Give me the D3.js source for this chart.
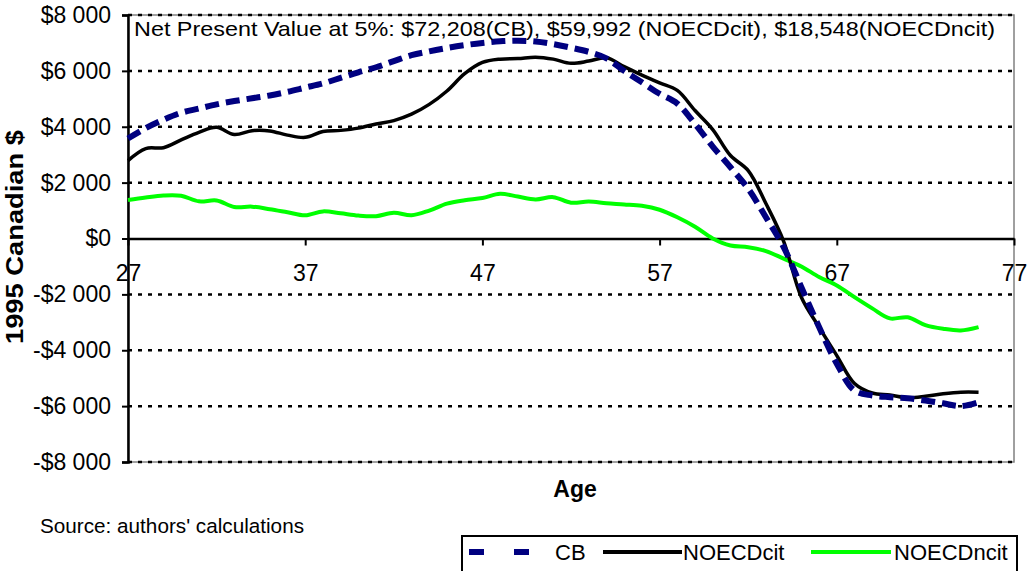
<!DOCTYPE html>
<html>
<head>
<meta charset="utf-8">
<script src="https://cdn.jsdelivr.net/npm/d3@7"></script>
<style>
  body { margin: 0; background: #fff; }
  svg { font-family: Arial, "Liberation Sans", sans-serif; }
</style>
</head>
<body>
<svg id="chart" width="1029" height="571"></svg>
<script>
// ages 27..75
ages = d3.range(27, 76);
cb = [3580, 3950, 4250, 4500, 4650, 4800, 4920, 5020, 5120, 5250,
      5400, 5550, 5750, 5950, 6130, 6350, 6560, 6700, 6820, 6920,
      7000, 7060, 7080, 7050, 6960, 6830, 6680, 6450, 6000, 5590,
      5180, 4830, 4100, 3290, 2550, 1780, 760, -310, -1740, -3170,
      -4480, -5440, -5620, -5680, -5720, -5800, -5900, -6000, -5860];
noecdCit = [2790, 3220, 3250, 3530, 3800, 3980, 3720, 3860, 3850, 3700,
            3620, 3830, 3870, 3950, 4100, 4220, 4450, 4800, 5280, 5900,
            6300, 6420, 6440, 6490, 6420, 6270, 6350, 6470, 6150, 5850,
            5570, 5300, 4580, 3900, 2970, 2430, 1250, -100, -2100, -3170,
            -4190, -5190, -5530, -5600, -5700, -5650, -5560, -5500, -5500];
noecdNcit = [1380, 1470, 1540, 1530, 1330, 1360, 1130, 1140, 1050, 940,
             830, 970, 900, 820, 800, 920, 830, 1000, 1250, 1370,
             1450, 1600, 1500, 1400, 1480, 1280, 1320, 1260, 1220, 1170,
             1030, 760, 420, 0, -250, -310, -450, -720, -1000, -1380,
             -1680, -2100, -2500, -2860, -2820, -3100, -3230, -3290, -3170];
yTicks = [8000, 6000, 4000, 2000, 0, -2000, -4000, -6000, -8000];
xTicks = [27, 37, 47, 57, 67, 77];
titleText = "Net Present Value at 5%: $72,208(CB), $59,992 (NOECDcit), $18,548(NOECDncit)";

let svg = d3.select("#chart");
let plot = {left: 128, right: 1014, top: 15, bottom: 462};

let x = d3.scaleLinear().domain([27, 77]).range([plot.left, plot.right]);
let y = d3.scaleLinear().domain([-8000, 8000]).range([plot.bottom, plot.top]);

function fmt(v){
    let s = "$" + d3.format(",")(Math.abs(v)).replace(/,/g, " ");
    return v < 0 ? "-" + s : s;
}

// plot area border
svg.append("rect")
    .attr("x", plot.left).attr("y", plot.top)
    .attr("width", plot.right - plot.left).attr("height", plot.bottom - plot.top)
    .attr("fill", "none").attr("stroke", "#808080").attr("stroke-width", 1.5);

// gridlines
svg.selectAll(".grid")
    .data(yTicks.filter(d => d !== 0))
    .enter().append("line")
    .attr("class", "grid")
    .attr("x1", plot.left).attr("x2", plot.right)
    .attr("y1", d => y(d)).attr("y2", d => y(d))
    .attr("stroke", "#000").attr("stroke-width", 2.5)
    .attr("stroke-dasharray", "4,6");

// y axis
let yAxis = d3.axisLeft(y).tickValues(yTicks).tickSize(6).tickPadding(11).tickFormat(fmt);
let gy = svg.append("g").attr("transform", "translate(" + plot.left + ",0)").call(yAxis);
gy.select(".domain").attr("stroke", "#000").attr("stroke-width", 2.5);
gy.selectAll(".tick line").attr("stroke", "#000").attr("stroke-width", 2);
gy.selectAll(".tick text").attr("font-size", 23).attr("fill", "#000")
    .attr("font-family", "Arial, 'Liberation Sans', sans-serif");

// x axis at zero
let xAxis = d3.axisBottom(x).tickValues(xTicks).tickSize(7).tickPadding(19).tickSizeOuter(0);
let gx = svg.append("g").attr("transform", "translate(0," + y(0) + ")").call(xAxis);
gx.select(".domain").attr("stroke", "#000").attr("stroke-width", 2.5);
gx.selectAll(".tick line").attr("stroke", "#000").attr("stroke-width", 2);
gx.selectAll(".tick text").attr("font-size", 23).attr("fill", "#000")
    .attr("font-family", "Arial, 'Liberation Sans', sans-serif");

// series
let line = d3.line()
    .x((d, i) => x(ages[i]))
    .y(d => y(d))
    .curve(d3.curveCatmullRom.alpha(0.5));

svg.append("path").datum(noecdNcit)
    .attr("d", line).attr("fill", "none")
    .attr("stroke", "#00ff00").attr("stroke-width", 4);
svg.append("path").datum(noecdCit)
    .attr("d", line).attr("fill", "none")
    .attr("stroke", "#000").attr("stroke-width", 3.5);
svg.append("path").datum(cb)
    .attr("d", line).attr("fill", "none")
    .attr("stroke", "#000080").attr("stroke-width", 6)
    .attr("stroke-dasharray", "14,7");

// title inside plot
svg.append("text")
    .attr("x", 134).attr("y", 36)
    .attr("font-size", 21)
    .attr("textLength", 861).attr("lengthAdjust", "spacingAndGlyphs")
    .text(titleText);

// axis titles
svg.append("text")
    .attr("transform", "translate(23,237) rotate(-90)")
    .attr("text-anchor", "middle")
    .attr("font-size", 23).attr("font-weight", "bold")
    .attr("textLength", 214).attr("lengthAdjust", "spacingAndGlyphs")
    .text("1995 Canadian $");

svg.append("text")
    .attr("x", 575).attr("y", 497)
    .attr("text-anchor", "middle")
    .attr("font-size", 23).attr("font-weight", "bold")
    .text("Age");

svg.append("text")
    .attr("x", 40).attr("y", 533)
    .attr("font-size", 20.5)
    .attr("textLength", 264).attr("lengthAdjust", "spacingAndGlyphs")
    .text("Source: authors' calculations");

// legend
let lg = svg.append("g");
lg.append("rect")
    .attr("x", 462).attr("y", 536).attr("width", 555).attr("height", 45)
    .attr("fill", "#fff").attr("stroke", "#000").attr("stroke-width", 2);
let legendItems = [
    {name: "CB", color: "#000080", w: 6, dash: "15,30", x1: 469, x2: 530, tx: 555},
    {name: "NOECDcit", color: "#000", w: 4, dash: null, x1: 603, x2: 682, tx: 683},
    {name: "NOECDncit", color: "#00ff00", w: 4, dash: null, x1: 811, x2: 891, tx: 894}
];
legendItems.forEach(function(d){
    lg.append("line")
        .attr("x1", d.x1).attr("x2", d.x2).attr("y1", 552).attr("y2", 552)
        .attr("stroke", d.color).attr("stroke-width", d.w)
        .attr("stroke-dasharray", d.dash);
    lg.append("text")
        .attr("x", d.tx).attr("y", 560)
        .attr("font-size", 22)
        .text(d.name);
});
</script>
</body>
</html>
